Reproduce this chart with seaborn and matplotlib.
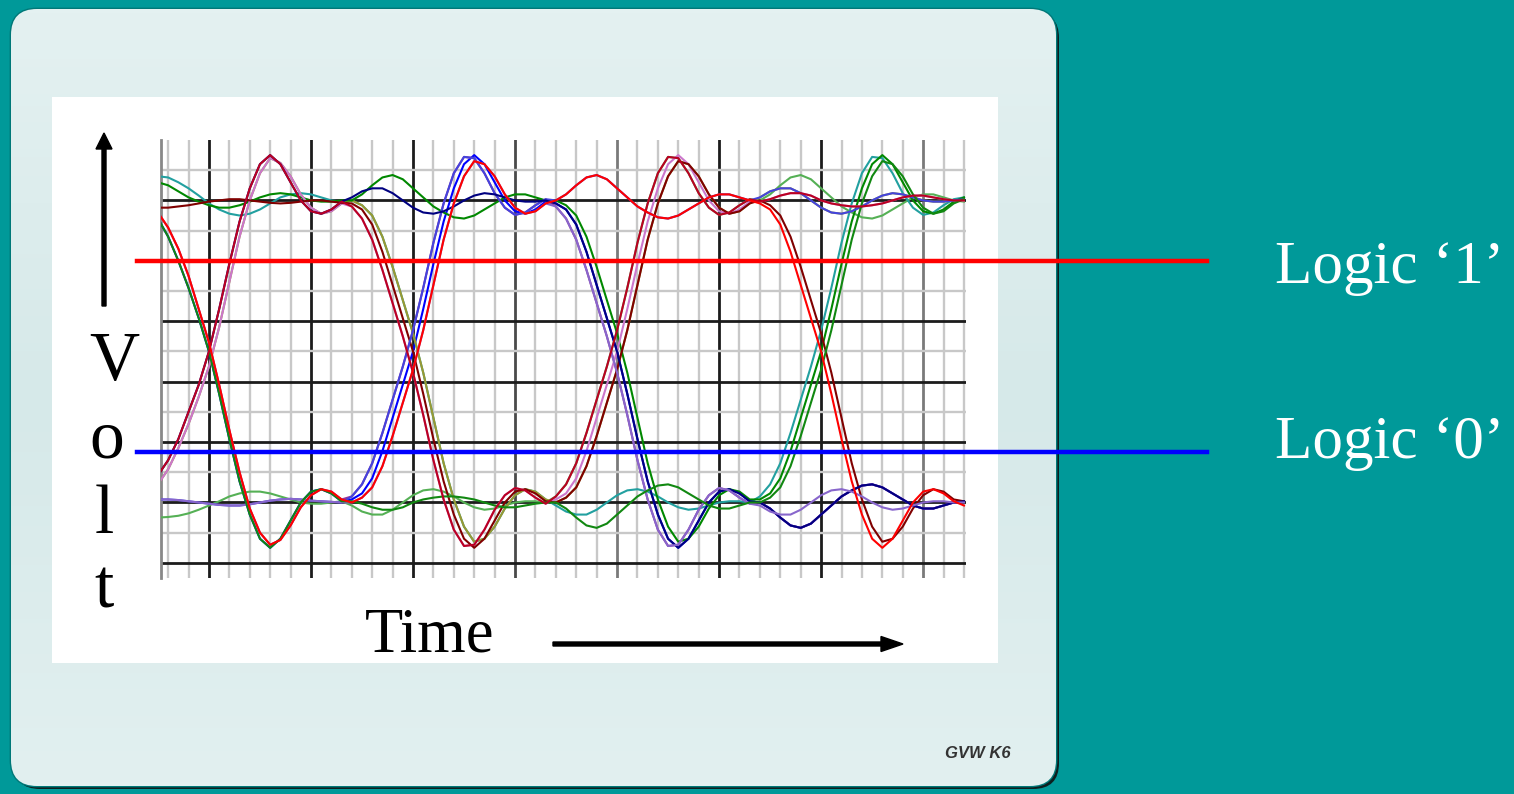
import numpy as np
import pandas as pd
import seaborn as sns
import matplotlib.pyplot as plt
from matplotlib.colors import LinearSegmentedColormap
from matplotlib.patches import FancyBboxPatch, Rectangle, FancyArrow

# sample times in major grid divisions (one sample every 0.1 division)
time = np.round(np.arange(-0.5, 7.45, 0.1), 1)

# voltages in grid units (0 = lowest black line, 6 = top black line)
blue_v = [5.7, 5.4, 5.0, 4.55, 4.05, 3.5, 2.8, 2.05, 1.35, 0.8, 0.4, 0.25, 0.4, 0.7, 1.0, 1.18, 1.22, 1.15, 1.02,
          1.05, 1.15, 1.4, 1.85, 2.4, 2.95, 3.5, 4.2, 4.95, 5.65, 6.2, 6.6, 6.75, 6.6, 6.3, 6.0, 5.82, 5.78, 5.85, 5.98,
          5.95, 5.85, 5.6, 5.15, 4.6, 4.05, 3.5, 2.8, 2.05, 1.35, 0.8, 0.4, 0.25, 0.4, 0.7, 1.0, 1.18, 1.22, 1.15, 1.02,
          1.0, 0.9, 0.75, 0.62, 0.58, 0.65, 0.8, 0.95, 1.1, 1.2, 1.28, 1.3, 1.25, 1.15, 1.05, 0.95, 0.9, 0.9, 0.95, 1.0,
          1.02]
red_v = [5.8, 5.55, 5.2, 4.75, 4.2, 3.65, 2.95, 2.2, 1.5, 0.9, 0.5, 0.3, 0.38, 0.62, 0.92, 1.12, 1.22, 1.18, 1.05,
         1.0, 1.08, 1.25, 1.6, 2.1, 2.65, 3.2, 3.85, 4.6, 5.35, 5.95, 6.4, 6.65, 6.6, 6.4, 6.1, 5.88, 5.78, 5.82, 5.95,
         6.0, 6.1, 6.25, 6.38, 6.42, 6.35, 6.2, 6.05, 5.9, 5.8, 5.72, 5.7, 5.75, 5.85, 5.95, 6.05, 6.1, 6.1, 6.05, 6.0,
         5.95, 5.85, 5.6, 5.15, 4.6, 4.05, 3.5, 2.8, 2.05, 1.35, 0.8, 0.4, 0.25, 0.4, 0.7, 1.0, 1.18, 1.22, 1.15, 1.02,
         0.95]
green_v = [5.7, 5.4, 5.0, 4.55, 4.05, 3.5, 2.8, 2.05, 1.35, 0.8, 0.4, 0.25, 0.4, 0.7, 1.0, 1.18, 1.22, 1.15, 1.02,
           1.02, 0.98, 0.92, 0.88, 0.88, 0.92, 1.0, 1.05, 1.08, 1.1, 1.1, 1.08, 1.05, 1.0, 0.95, 0.92, 0.92, 0.95, 0.98, 1.0,
           1.0, 0.9, 0.75, 0.62, 0.58, 0.65, 0.8, 0.95, 1.1, 1.2, 1.28, 1.3, 1.25, 1.15, 1.05, 0.95, 0.9, 0.9, 0.95, 1.0,
           1.0, 1.08, 1.25, 1.6, 2.1, 2.65, 3.2, 3.85, 4.6, 5.35, 5.95, 6.4, 6.65, 6.6, 6.4, 6.1, 5.88, 5.78, 5.82, 5.95,
           6.02]
purple_v = [5.8, 5.55, 5.2, 4.75, 4.2, 3.65, 2.95, 2.2, 1.5, 0.9, 0.5, 0.3, 0.38, 0.62, 0.92, 1.12, 1.22, 1.18, 1.05,
            1.1, 1.3, 1.65, 2.15, 2.7, 3.25, 3.85, 4.55, 5.3, 5.95, 6.45, 6.72, 6.7, 6.45, 6.12, 5.88, 5.76, 5.8, 5.92, 6.02,
            5.9, 5.7, 5.35, 4.85, 4.3, 3.75, 3.15, 2.45, 1.7, 1.05, 0.55, 0.28, 0.3, 0.55, 0.88, 1.12, 1.24, 1.2, 1.08, 0.98,
            1.0, 0.9, 0.75, 0.62, 0.58, 0.65, 0.8, 0.95, 1.1, 1.2, 1.28, 1.3, 1.25, 1.15, 1.05, 0.95, 0.9, 0.9, 0.95, 1.0,
            1.02]
darkred_v = [1.45, 1.7, 2.05, 2.5, 2.95, 3.5, 4.2, 4.95, 5.65, 6.2, 6.6, 6.75, 6.6, 6.3, 6.0, 5.82, 5.78, 5.85, 5.98,
             5.9, 5.7, 5.35, 4.85, 4.3, 3.75, 3.15, 2.45, 1.7, 1.05, 0.55, 0.28, 0.3, 0.55, 0.88, 1.12, 1.24, 1.2, 1.08, 0.98,
             1.1, 1.3, 1.65, 2.15, 2.7, 3.25, 3.85, 4.55, 5.3, 5.95, 6.45, 6.72, 6.7, 6.45, 6.12, 5.88, 5.76, 5.8, 5.92, 6.02,
             5.98, 6.02, 6.08, 6.12, 6.12, 6.08, 6.0, 5.95, 5.92, 5.9, 5.9, 5.92, 5.95, 6.0, 6.05, 6.08, 6.08, 6.05, 6.02, 6.0,
             6.0]
olive_v = [1.3, 1.55, 1.9, 2.3, 2.75, 3.25, 3.9, 4.65, 5.4, 6.0, 6.45, 6.7, 6.62, 6.4, 6.1, 5.88, 5.78, 5.82, 5.95,
           6.0, 5.92, 5.75, 5.4, 4.9, 4.35, 3.8, 3.15, 2.4, 1.65, 1.05, 0.6, 0.35, 0.4, 0.6, 0.9, 1.12, 1.22, 1.18, 1.05,
           1.0, 1.08, 1.25, 1.6, 2.1, 2.65, 3.2, 3.85, 4.6, 5.35, 5.95, 6.4, 6.65, 6.6, 6.4, 6.1, 5.88, 5.78, 5.82, 5.95,
           6.05, 6.15, 6.2, 6.2, 6.12, 6.0, 5.88, 5.8, 5.78, 5.82, 5.9, 6.0, 6.08, 6.12, 6.1, 6.05, 6.0, 5.98, 5.98, 6.0,
           6.0]
navy_v = [1.45, 1.7, 2.05, 2.5, 2.95, 3.5, 4.2, 4.95, 5.65, 6.2, 6.6, 6.75, 6.6, 6.3, 6.0, 5.82, 5.78, 5.85, 5.98,
          6.05, 6.15, 6.2, 6.2, 6.12, 6.0, 5.88, 5.8, 5.78, 5.82, 5.9, 6.0, 6.08, 6.12, 6.1, 6.05, 6.0, 5.98, 5.98, 6.0,
          5.95, 5.85, 5.6, 5.15, 4.6, 4.05, 3.5, 2.8, 2.05, 1.35, 0.8, 0.4, 0.25, 0.4, 0.7, 1.0, 1.18, 1.22, 1.15, 1.02,
          1.0, 0.9, 0.75, 0.62, 0.58, 0.65, 0.8, 0.95, 1.1, 1.2, 1.28, 1.3, 1.25, 1.15, 1.05, 0.95, 0.9, 0.9, 0.95, 1.0,
          1.02]
magenta_v = [1.3, 1.55, 1.9, 2.3, 2.75, 3.25, 3.9, 4.65, 5.4, 6.0, 6.45, 6.7, 6.62, 6.4, 6.1, 5.88, 5.78, 5.82, 5.95,
             5.9, 5.7, 5.35, 4.85, 4.3, 3.75, 3.15, 2.45, 1.7, 1.05, 0.55, 0.28, 0.3, 0.55, 0.88, 1.12, 1.24, 1.2, 1.08, 0.98,
             1.05, 1.15, 1.4, 1.85, 2.4, 2.95, 3.5, 4.2, 4.95, 5.65, 6.2, 6.6, 6.75, 6.6, 6.3, 6.0, 5.82, 5.78, 5.85, 5.98,
             5.98, 6.02, 6.08, 6.12, 6.12, 6.08, 6.0, 5.95, 5.92, 5.9, 5.9, 5.92, 5.95, 6.0, 6.05, 6.08, 6.08, 6.05, 6.02, 6.0,
             6.0]
teal_v = [6.4, 6.38, 6.3, 6.2, 6.08, 5.95, 5.85, 5.78, 5.75, 5.78, 5.85, 5.95, 6.05, 6.1, 6.12, 6.1, 6.05, 6.0, 5.98,
          6.0, 5.92, 5.75, 5.4, 4.9, 4.35, 3.8, 3.15, 2.4, 1.65, 1.05, 0.6, 0.35, 0.4, 0.6, 0.9, 1.12, 1.22, 1.18, 1.05,
          0.95, 0.85, 0.8, 0.8, 0.88, 1.0, 1.12, 1.2, 1.22, 1.18, 1.1, 1.0, 0.92, 0.88, 0.9, 0.95, 1.0, 1.02, 1.02, 1.0,
          1.1, 1.3, 1.65, 2.15, 2.7, 3.25, 3.85, 4.55, 5.3, 5.95, 6.45, 6.72, 6.7, 6.45, 6.12, 5.88, 5.76, 5.8, 5.92, 6.02,
          6.05]
dkgreen_v = [6.3, 6.25, 6.15, 6.05, 5.98, 5.92, 5.88, 5.88, 5.92, 5.98, 6.05, 6.1, 6.12, 6.1, 6.05, 6.0, 5.98, 5.98, 6.0,
             6.0, 6.1, 6.25, 6.38, 6.42, 6.35, 6.2, 6.05, 5.9, 5.8, 5.72, 5.7, 5.75, 5.85, 5.95, 6.05, 6.1, 6.1, 6.05, 6.0,
             6.0, 5.92, 5.75, 5.4, 4.9, 4.35, 3.8, 3.15, 2.4, 1.65, 1.05, 0.6, 0.35, 0.4, 0.6, 0.9, 1.12, 1.22, 1.18, 1.05,
             1.05, 1.15, 1.4, 1.85, 2.4, 2.95, 3.5, 4.2, 4.95, 5.65, 6.2, 6.6, 6.75, 6.6, 6.3, 6.0, 5.82, 5.78, 5.85, 5.98,
             6.05]
maroon_v = [5.88, 5.88, 5.9, 5.92, 5.95, 5.98, 6.0, 6.02, 6.02, 6.0, 5.98, 5.96, 5.95, 5.96, 5.98, 6.0, 6.0, 5.98, 5.96,
            5.95, 5.85, 5.6, 5.15, 4.6, 4.05, 3.5, 2.8, 2.05, 1.35, 0.8, 0.4, 0.25, 0.4, 0.7, 1.0, 1.18, 1.22, 1.15, 1.02,
            1.0, 1.08, 1.25, 1.6, 2.1, 2.65, 3.2, 3.85, 4.6, 5.35, 5.95, 6.4, 6.65, 6.6, 6.4, 6.1, 5.88, 5.78, 5.82, 5.95,
            6.0, 5.92, 5.75, 5.4, 4.9, 4.35, 3.8, 3.15, 2.4, 1.65, 1.05, 0.6, 0.35, 0.4, 0.6, 0.9, 1.12, 1.22, 1.18, 1.05,
            1.02]
dkblue_v = [1.05, 1.05, 1.04, 1.02, 1.0, 0.98, 0.96, 0.95, 0.95, 0.97, 1.0, 1.03, 1.05, 1.06, 1.05, 1.03, 1.02, 1.01, 1.0,
            1.1, 1.3, 1.65, 2.15, 2.7, 3.25, 3.85, 4.55, 5.3, 5.95, 6.45, 6.72, 6.7, 6.45, 6.12, 5.88, 5.76, 5.8, 5.92, 6.02,
            6.0, 6.1, 6.25, 6.38, 6.42, 6.35, 6.2, 6.05, 5.9, 5.8, 5.72, 5.7, 5.75, 5.85, 5.95, 6.05, 6.1, 6.1, 6.05, 6.0,
            6.05, 6.15, 6.2, 6.2, 6.12, 6.0, 5.88, 5.8, 5.78, 5.82, 5.9, 6.0, 6.08, 6.12, 6.1, 6.05, 6.0, 5.98, 5.98, 6.0,
            6.02]
violet_v = [1.05, 1.05, 1.04, 1.02, 1.0, 0.98, 0.96, 0.95, 0.95, 0.97, 1.0, 1.03, 1.05, 1.06, 1.05, 1.03, 1.02, 1.01, 1.0,
            1.0, 1.08, 1.25, 1.6, 2.1, 2.65, 3.2, 3.85, 4.6, 5.35, 5.95, 6.4, 6.65, 6.6, 6.4, 6.1, 5.88, 5.78, 5.82, 5.95,
            5.9, 5.7, 5.35, 4.85, 4.3, 3.75, 3.15, 2.45, 1.7, 1.05, 0.55, 0.28, 0.3, 0.55, 0.88, 1.12, 1.24, 1.2, 1.08, 0.98,
            0.95, 0.85, 0.8, 0.8, 0.88, 1.0, 1.12, 1.2, 1.22, 1.18, 1.1, 1.0, 0.92, 0.88, 0.9, 0.95, 1.0, 1.02, 1.02, 1.0,
            1.0]
ltgreen_v = [0.75, 0.76, 0.78, 0.82, 0.88, 0.95, 1.02, 1.1, 1.15, 1.18, 1.18, 1.15, 1.1, 1.05, 1.0, 0.98, 0.98, 1.0, 1.02,
             0.95, 0.85, 0.8, 0.8, 0.88, 1.0, 1.12, 1.2, 1.22, 1.18, 1.1, 1.0, 0.92, 0.88, 0.9, 0.95, 1.0, 1.02, 1.02, 1.0,
             1.1, 1.3, 1.65, 2.15, 2.7, 3.25, 3.85, 4.55, 5.3, 5.95, 6.45, 6.72, 6.7, 6.45, 6.12, 5.88, 5.76, 5.8, 5.92, 6.02,
             6.0, 6.1, 6.25, 6.38, 6.42, 6.35, 6.2, 6.05, 5.9, 5.8, 5.72, 5.7, 5.75, 5.85, 5.95, 6.05, 6.1, 6.1, 6.05, 6.0,
             5.98]

traces = {
    "blue": (blue_v, "#0000ff"),
    "ltgreen": (ltgreen_v, "#55b055"),
    "teal": (teal_v, "#22a0a0"),
    "olive": (olive_v, "#999933"),
    "dkgreen": (dkgreen_v, "#008800"),
    "purple": (purple_v, "#993399"),
    "magenta": (magenta_v, "#cc77cc"),
    "maroon": (maroon_v, "#800000"),
    "dkblue": (dkblue_v, "#4444dd"),
    "navy": (navy_v, "#000080"),
    "violet": (violet_v, "#8866cc"),
    "green": (green_v, "#118811"),
    "darkred": (darkred_v, "#bb0022"),
    "red": (red_v, "#ff0000"),
}

logic_one = 5.0
logic_zero = 1.83

frames = []
for name, (volts, _) in traces.items():
    frames.append(pd.DataFrame({"time": time[:len(volts)], "volt": volts, "trace": name}))
df = pd.concat(frames, ignore_index=True)
palette = {name: col for name, (_, col) in traces.items()}

W, H = 1514, 794
fig = plt.figure(figsize=(W / 100, H / 100), dpi=100, facecolor="#009999")
plt.rcParams["font.family"] = "Liberation Serif"

# background card and white panel (pixel coordinates)
bg = fig.add_axes([0, 0, 1, 1], zorder=0)
bg.set_xlim(0, W)
bg.set_ylim(H, 0)
bg.axis("off")
bg.add_patch(FancyBboxPatch((14, 12), 1045, 777, boxstyle="round,pad=0,rounding_size=26",
                            facecolor="#0c2020", edgecolor="none"))
card = FancyBboxPatch((11, 9), 1045, 777, boxstyle="round,pad=0,rounding_size=26",
                      facecolor="#e0eeee", edgecolor="#007878", linewidth=2)
bg.add_patch(card)
grad = np.linspace(0, 1, 200).reshape(-1, 1)
card_cmap = LinearSegmentedColormap.from_list("card", ["#e4f1f1", "#d6e9e9", "#e2f0f0"])
img = bg.imshow(grad, extent=(11, 1056, 786, 9), cmap=card_cmap, aspect="auto", zorder=1)
img.set_clip_path(card)
bg.add_patch(Rectangle((52, 97), 946, 566, facecolor="white", edgecolor="none", zorder=2))
bg.text(978, 753, "GVW K6", ha="center", va="center", fontsize=12, style="italic",
        fontweight="bold", family="Liberation Sans", color="#333333", zorder=3)

# eye diagram axes
ax = fig.add_axes([161 / W, 1 - 578 / H, (966 - 161) / W, (578 - 140) / H], zorder=1)
ax.set_facecolor("white")
sns.lineplot(data=df, x="time", y="volt", hue="trace", palette=palette, estimator=None,
             legend=False, linewidth=1.5, ax=ax, zorder=3)
ax.set_xlim(-0.47, 7.42)
ax.set_ylim(-0.25, 7.0)
ax.set_xticks(np.arange(0, 8, 1))
ax.set_xticks(np.arange(-0.4, 7.5, 0.2), minor=True)
ax.set_yticks(np.arange(0, 7, 1))
ax.set_yticks(np.arange(0.5, 7, 1.0), minor=True)
ax.grid(which="minor", color="#c8c8c8", linewidth=1.7)
ax.grid(which="major", color="#1c1c1c", linewidth=2.0)
major_x_shades = ["#1c1c1c", "#1c1c1c", "#1c1c1c", "#4a4a4a", "#7a7a7a", "#1c1c1c", "#1c1c1c", "#7a7a7a"]
for tick, shade in zip(ax.xaxis.get_major_ticks(), major_x_shades):
    tick.gridline.set_color(shade)
ax.set_axisbelow(True)
ax.tick_params(which="both", length=0, labelbottom=False, labelleft=False)
ax.set_xlabel("")
ax.set_ylabel("")
for side in ["top", "right", "bottom"]:
    ax.spines[side].set_visible(False)
ax.spines["left"].set_color("#888888")
ax.spines["left"].set_linewidth(2)

# logic threshold lines reaching past the plot on both sides
x0 = (137 - 161) / (966 - 161)
x1 = (1207 - 161) / (966 - 161)
ax.axhline(logic_one, xmin=x0, xmax=x1, color="#ff0000", linewidth=3.2, clip_on=False, zorder=5)
ax.axhline(logic_zero, xmin=x0, xmax=x1, color="#0000ff", linewidth=3.2, clip_on=False, zorder=5)

# overlay for labels and arrows
top = fig.add_axes([0, 0, 1, 1], zorder=2)
top.set_xlim(0, W)
top.set_ylim(H, 0)
top.axis("off")
top.patch.set_alpha(0)
top.add_patch(FancyArrow(104, 306, 0, -173, width=4, head_width=16, head_length=16,
                         length_includes_head=True, color="black"))
top.add_patch(FancyArrow(553, 644, 350, 0, width=4, head_width=15, head_length=22,
                         length_includes_head=True, color="black"))
for letter, x, y in [("V", 114, 380), ("o", 107, 457), ("l", 104, 533), ("t", 104, 608)]:
    top.text(x, y, letter, ha="center", va="baseline", fontsize=50, color="black")
top.text(365, 652, "Time", ha="left", va="baseline", fontsize=45, color="black")
top.text(1275, 283, "Logic \u20181\u2019", ha="left", va="baseline", fontsize=44, color="white")
top.text(1275, 458, "Logic \u20180\u2019", ha="left", va="baseline", fontsize=44, color="white")

plt.savefig("out.png", dpi=100, facecolor=fig.get_facecolor())
